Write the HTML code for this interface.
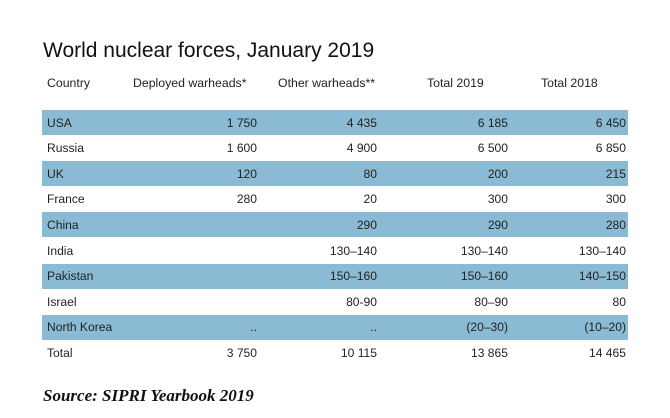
<!DOCTYPE html>
<html><head><meta charset="utf-8"><style>
body{margin:0;width:670px;height:418px;background:#fff;position:relative;overflow:hidden;font-family:"Liberation Sans",sans-serif;color:#222}
.a{position:absolute;white-space:nowrap}
.title{left:43px;top:39px;font-size:21px;color:#111}
.h{top:76px;font-size:12.3px;color:#222}
.band{position:absolute;left:42px;width:586px;height:25px;background:#8bbbd4}
.c{font-size:12.1px;line-height:14px}
.r{text-align:right;width:100px}
.src{left:43px;top:386px;font-family:"Liberation Serif",serif;font-style:italic;font-weight:bold;font-size:17px;color:#111}
</style></head><body>
<div class="a title">World nuclear forces, January 2019</div>
<div class="a h" style="left:47px">Country</div>
<div class="a h" style="left:133px">Deployed warheads*</div>
<div class="a h" style="left:278px">Other warheads**</div>
<div class="a h" style="left:427px">Total 2019</div>
<div class="a h" style="left:541px">Total 2018</div>
<div id="tbl"></div>
<div class="a src">Source: SIPRI Yearbook 2019</div>
<script>
const countries=["USA","Russia","UK","France","China","India","Pakistan","Israel","North Korea","Total"];
const deployed=["1 750","1 600","120","280","","","","","..","3 750"];
const other=["4 435","4 900","80","20","290","130–140","150–160","80-90","..","10 115"];
const total2019=["6 185","6 500","200","300","290","130–140","150–160","80–90","(20–30)","13 865"];
const total2018=["6 450","6 850","215","300","280","130–140","140–150","80","(10–20)","14 465"];
const tbl=document.getElementById('tbl');
const top0=110,rh=25.6;
const cols=[[deployed,257,'deployed'],[other,377,'other'],[total2019,508,'total-2019'],[total2018,626,'total-2018']];
countries.forEach((c,i)=>{
  const y=top0+i*rh;
  if(i%2===0&&i<9){const b=document.createElement('div');b.className='band';b.style.top=y+'px';
    
    
    tbl.appendChild(b);}
  const t=document.createElement('div');t.className='a c';t.style.left='47px';t.style.top=(y+5.5)+'px';t.textContent=c;
  
  
  tbl.appendChild(t);
  cols.forEach(([arr,right,nm])=>{
    const d=document.createElement('div');d.className='a c r';d.style.left=(right-100)+'px';d.style.top=(y+5.5)+'px';d.textContent=arr[i];
    
    
    tbl.appendChild(d);
  });
});
</script>
</body></html>
